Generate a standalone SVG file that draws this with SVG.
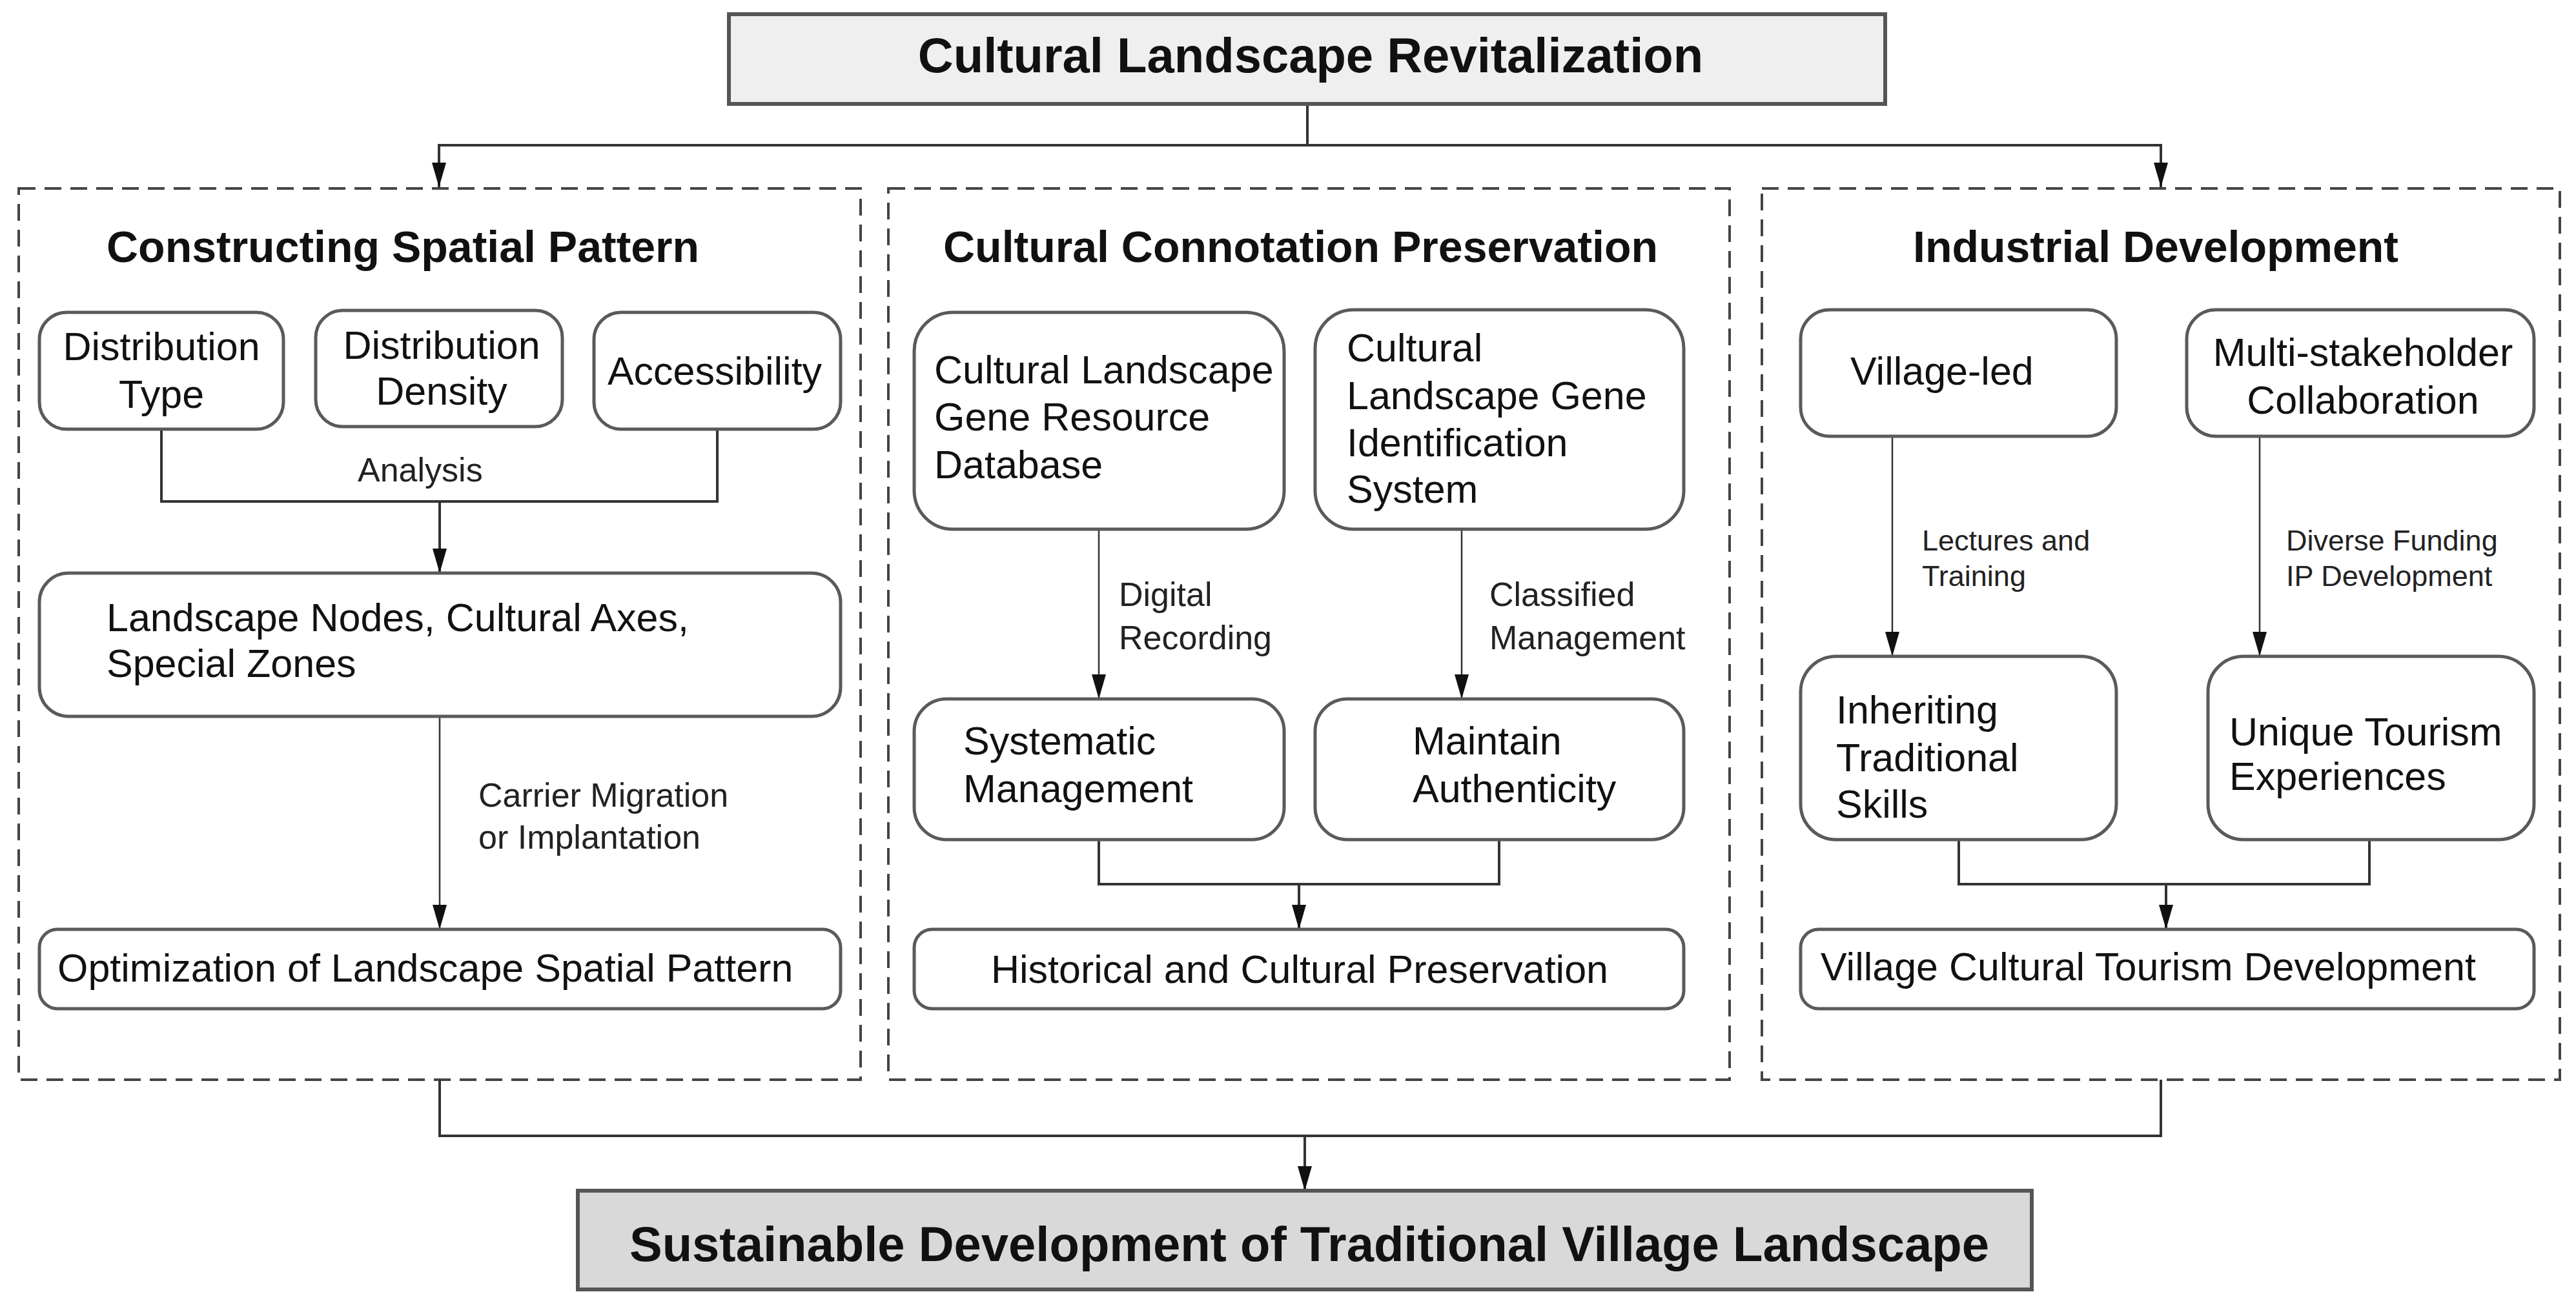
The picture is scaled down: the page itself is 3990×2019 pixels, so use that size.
<svg xmlns="http://www.w3.org/2000/svg" width="3990" height="2019" viewBox="0 0 3990 2019">
<defs>
<marker id="ah" markerUnits="userSpaceOnUse" markerWidth="38" markerHeight="22" viewBox="0 0 38 22" refX="38" refY="11" orient="auto-start-reverse">
<path d="M0,0 L38,11 L0,22 Z" fill="#111"/>
</marker>
</defs>
<style>
text{font-family:"Liberation Sans",Arial,sans-serif;fill:#111}
.title{font-size:76px;font-weight:bold;text-anchor:middle}
.head{font-size:68px;font-weight:bold}
.nt{font-size:61px}
.c{text-anchor:middle}
.lb{font-size:52px;fill:#222}
.ls{font-size:45px;fill:#222}
.node{fill:#fff;stroke:#5a5a5a;stroke-width:5}
.dash{fill:none;stroke:#444;stroke-width:4;stroke-dasharray:26 14}
.con{fill:none;stroke:#333;stroke-width:4}
.thin{fill:none;stroke:#333;stroke-width:2.5}
</style>
<rect width="3990" height="2019" fill="#fff"/>

<g id="panels">
<rect id="panel-spatial" class="dash" x="29" y="292" width="1304" height="1381"/>
<rect id="panel-cultural" class="dash" x="1376" y="292" width="1303" height="1381"/>
<rect id="panel-industrial" class="dash" x="2729" y="292" width="1236" height="1381"/>
</g>

<g id="connectors">
<polyline class="con" points="2025,161 2025,225"/>
<polyline class="con" points="680,290 680,225 3347,225 3347,290" marker-start="url(#ah)" marker-end="url(#ah)"/>
<polyline class="con" points="250,665 250,777 1111,777 1111,665"/>
<line class="con" x1="681" y1="777" x2="681" y2="888" marker-end="url(#ah)"/>
<line class="thin" x1="681" y1="1110" x2="681" y2="1440" marker-end="url(#ah)"/>
<line class="thin" x1="1702" y1="820" x2="1702" y2="1083" marker-end="url(#ah)"/>
<line class="thin" x1="2264" y1="820" x2="2264" y2="1083" marker-end="url(#ah)"/>
<polyline class="con" points="1702,1301 1702,1370 2322,1370 2322,1301"/>
<line class="con" x1="2012" y1="1370" x2="2012" y2="1440" marker-end="url(#ah)"/>
<line class="thin" x1="2931" y1="676" x2="2931" y2="1017" marker-end="url(#ah)"/>
<line class="thin" x1="3500" y1="676" x2="3500" y2="1017" marker-end="url(#ah)"/>
<polyline class="con" points="3034,1301 3034,1370 3670,1370 3670,1301"/>
<line class="con" x1="3355" y1="1370" x2="3355" y2="1440" marker-end="url(#ah)"/>
<polyline class="con" points="681,1673 681,1760 3347,1760 3347,1673"/>
<line class="con" x1="2021" y1="1760" x2="2021" y2="1845" marker-end="url(#ah)"/>
</g>

<g id="labels">
<text class="lb" x="554" y="746">Analysis</text>
<text class="lb" x="741" y="1250">Carrier Migration</text>
<text class="lb" x="741" y="1315">or Implantation</text>
<text class="lb" x="1733" y="939">Digital</text>
<text class="lb" x="1733" y="1006">Recording</text>
<text class="lb" x="2307" y="939">Classified</text>
<text class="lb" x="2307" y="1006">Management</text>
<text class="ls" x="2977" y="853">Lectures and</text>
<text class="ls" x="2977" y="908">Training</text>
<text class="ls" x="3541" y="853">Diverse Funding</text>
<text class="ls" x="3541" y="908">IP Development</text>
</g>

<g id="top">
<rect x="1129" y="22" width="1791" height="139" fill="#efefef" stroke="#555" stroke-width="6"/>
<text class="title" x="2030" y="112">Cultural Landscape Revitalization</text>
</g>

<g id="headers">
<text class="head" x="165" y="406">Constructing Spatial Pattern</text>
<text class="head" x="1461" y="406">Cultural Connotation Preservation</text>
<text class="head" x="2963" y="406">Industrial Development</text>
</g>

<g id="dist-type">
<rect class="node" x="61" y="484" width="378" height="181" rx="42"/>
<text class="nt c" x="250" y="558">Distribution</text>
<text class="nt c" x="250" y="632">Type</text>
</g>
<g id="dist-density">
<rect class="node" x="489" y="481" width="382" height="180" rx="42"/>
<text class="nt c" x="684" y="556">Distribution</text>
<text class="nt c" x="684" y="627">Density</text>
</g>
<g id="accessibility">
<rect class="node" x="920" y="484" width="382" height="181" rx="42"/>
<text class="nt c" x="1107" y="596">Accessibility</text>
</g>
<g id="landscape-nodes">
<rect class="node" x="61" y="888" width="1241" height="222" rx="45"/>
<text class="nt" x="165" y="978">Landscape Nodes, Cultural Axes,</text>
<text class="nt" x="165" y="1049">Special Zones</text>
</g>
<g id="optimization">
<rect class="node" x="61" y="1440" width="1241" height="123" rx="28"/>
<text class="nt" x="89" y="1521">Optimization of Landscape Spatial Pattern</text>
</g>

<g id="gene-db">
<rect class="node" x="1416" y="484" width="573" height="336" rx="60"/>
<text class="nt" x="1447" y="594">Cultural Landscape</text>
<text class="nt" x="1447" y="667">Gene Resource</text>
<text class="nt" x="1447" y="741">Database</text>
</g>
<g id="gene-id">
<rect class="node" x="2037" y="480" width="571" height="340" rx="60"/>
<text class="nt" x="2086" y="560">Cultural</text>
<text class="nt" x="2086" y="634">Landscape Gene</text>
<text class="nt" x="2086" y="707">Identification</text>
<text class="nt" x="2086" y="779">System</text>
</g>
<g id="systematic">
<rect class="node" x="1416" y="1083" width="573" height="218" rx="50"/>
<text class="nt" x="1492" y="1169">Systematic</text>
<text class="nt" x="1492" y="1243">Management</text>
</g>
<g id="authenticity">
<rect class="node" x="2037" y="1083" width="571" height="218" rx="50"/>
<text class="nt" x="2188" y="1169">Maintain</text>
<text class="nt" x="2188" y="1243">Authenticity</text>
</g>
<g id="historical">
<rect class="node" x="1416" y="1440" width="1192" height="123" rx="28"/>
<text class="nt c" x="2013" y="1523">Historical and Cultural Preservation</text>
</g>

<g id="village-led">
<rect class="node" x="2789" y="480" width="489" height="196" rx="45"/>
<text class="nt" x="2866" y="596">Village-led</text>
</g>
<g id="multi-stakeholder">
<rect class="node" x="3387" y="480" width="538" height="196" rx="45"/>
<text class="nt c" x="3660" y="567">Multi-stakeholder</text>
<text class="nt c" x="3660" y="641">Collaboration</text>
</g>
<g id="inheriting">
<rect class="node" x="2789" y="1017" width="489" height="284" rx="55"/>
<text class="nt" x="2844" y="1121">Inheriting</text>
<text class="nt" x="2844" y="1195">Traditional</text>
<text class="nt" x="2844" y="1267">Skills</text>
</g>
<g id="unique-tourism">
<rect class="node" x="3420" y="1017" width="505" height="284" rx="55"/>
<text class="nt" x="3453" y="1155">Unique Tourism</text>
<text class="nt" x="3453" y="1224">Experiences</text>
</g>
<g id="village-tourism">
<rect class="node" x="2789" y="1440" width="1136" height="123" rx="28"/>
<text class="nt" x="2820" y="1519">Village Cultural Tourism Development</text>
</g>

<g id="bottom">
<rect x="895" y="1845" width="2252" height="153" fill="#d9d9d9" stroke="#555" stroke-width="6"/>
<text class="title" x="2028" y="1954">Sustainable Development of Traditional Village Landscape</text>
</g>
</svg>
